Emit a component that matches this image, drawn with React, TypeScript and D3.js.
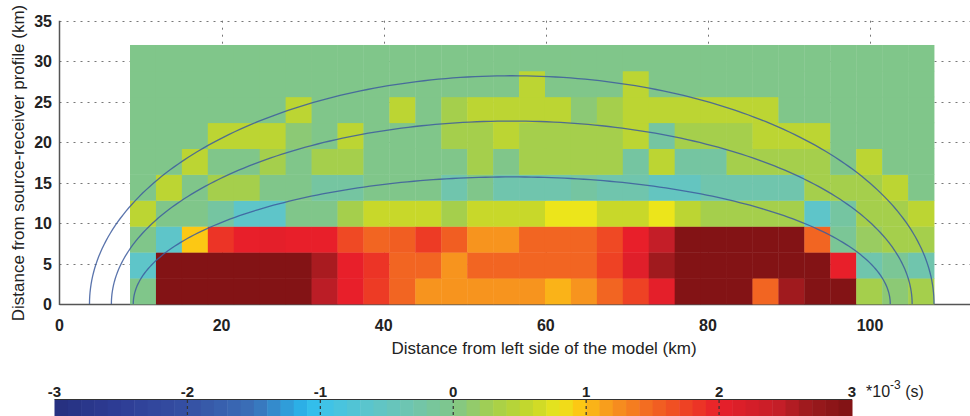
import { useEffect, useRef } from 'react';
import * as d3 from 'd3';

// Delay anomaly, *10^-3 s, one row per 3.2 km depth band (bottom row first), 31 columns of 3.2 km from x = 8.7 km
const row0 = [0, 2.95, 2.95, 2.95, 2.95, 2.95, 2.95, 2.5, 2.0, 1.8, 1.5, 1.2, 1.2, 1.2, 1.2, 1.2, 1.05, 1.2, 1.5, 1.75, 2.05, 2.95, 2.95, 2.95, 1.5, 2.65, 2.95, 2.95, 0.3, 0.1, 0.3];
const row1 = [-0.6, 2.95, 2.95, 2.95, 2.95, 2.95, 2.95, 2.6, 2.0, 1.85, 1.5, 1.5, 1.2, 1.5, 1.5, 1.5, 1.5, 1.5, 1.75, 2.1, 2.65, 2.95, 2.95, 2.95, 2.95, 2.95, 2.95, 2.0, -0.3, -0.1, -0.3];
const row2 = [0, -0.6, 0.95, 1.85, 2.0, 2.05, 2.0, 2.0, 1.7, 1.5, 1.55, 1.8, 1.55, 1.2, 1.2, 1.5, 1.5, 1.5, 1.7, 2.0, 2.45, 2.95, 2.95, 2.95, 2.95, 2.95, 1.5, -0.1, 0.2, 0.3, 0.3];
const row3 = [0.5, 0, 0, -0.2, -0.6, -0.6, 0, 0, 0.3, 0.6, 0.6, 0.6, 0.3, 0.6, 0.6, 0.6, 0.8, 0.8, 0.6, 0.6, 0.8, 0.5, 0.3, 0.3, 0.3, 0.3, -0.6, -0.2, 0.3, 0.3, 0.5];
const row4 = [0, 0.5, 0, 0.3, 0.3, 0, 0, -0.2, -0.2, 0, 0, 0, -0.3, 0, -0.3, -0.3, -0.3, -0.2, -0.3, -0.3, -0.5, -0.5, -0.3, -0.3, -0.3, -0.3, 0.3, 0.3, 0.3, 0.5, 0];
const row5 = [0, 0, 0.5, 0, 0, 0.3, 0, 0.3, 0.3, 0, 0, 0, 0, 0.3, 0, 0.3, 0.3, 0.3, 0.3, -0.2, 0.5, -0.2, -0.2, 0.3, 0.3, 0.3, 0.3, 0, 0.5, 0, 0];
const row6 = [0, 0, 0, 0.5, 0.5, 0.5, 0.1, 0, 0.5, 0, 0, 0, 0.3, 0.3, 0.5, 0.3, 0.3, 0.3, 0.3, 0.5, -0.2, 0.3, 0.3, 0.3, 0.5, 0.5, 0.5, 0, 0, 0, 0];
const row7 = [0, 0, 0, 0, 0, 0, 0.5, 0, 0, 0, 0.5, 0, 0.3, 0.5, 0.5, 0.5, 0.5, 0.1, 0.3, 0.5, 0.5, 0.5, 0.5, 0.5, 0.5, 0, 0, 0, 0, 0, 0];
const row8 = [0, 0, 0, 0, 0, 0, 0, 0, 0, 0, 0, 0, 0, 0, 0, 0.5, 0, 0, 0, 0.5, 0, 0, 0, 0, 0, 0, 0, 0, 0, 0, 0];
const row9 = [0, 0, 0, 0, 0, 0, 0, 0, 0, 0, 0, 0, 0, 0, 0, 0, 0, 0, 0, 0, 0, 0, 0, 0, 0, 0, 0, 0, 0, 0, 0];
const gridRows = [row0, row1, row2, row3, row4, row5, row6, row7, row8, row9];

const gridStart = 8.7;
const cellSize = 3.2;

// elliptical zones (km)
const zoneCenter = 55.8;
const zoneHalfWidth = [52.1, 49.4, 46.7];
const zoneHeight = [28.2, 22.6, 15.7];

const xTicks = [0, 20, 40, 60, 80, 100];
const yTicks = [0, 5, 10, 15, 20, 25, 30, 35];
const cbTicks = [-3, -2, -1, 0, 1, 2, 3];

// colour map stops
const cmapStops = [-3, -2.5, -2, -1.5, -1.1, -1, -0.6, -0.3, 0, 0.3, 0.5, 0.6, 0.8, 0.95, 1.2, 1.5, 1.75, 2.0, 2.45, 2.65, 3];
const cmapColors = ['#26307f', '#2e3d96', '#3550a3', '#3a70b8', '#2ab8ec', '#3cc3ea', '#5ec5c9', '#70c5ad', '#80c68a', '#a5cf4c', '#bcd533', '#c8d82a', '#ece51b', '#fcc814', '#f7941e', '#f26522', '#ee4224', '#e81f2a', '#c41e28', '#a01a1e', '#7e1214'];

const FONT = '"Liberation Sans", Arial, sans-serif';

export default function App() {
  const svgRef = useRef<SVGSVGElement | null>(null);

  useEffect(() => {
    const svg = d3.select(svgRef.current);
    svg.selectAll('*').remove();

    const x = d3.scaleLinear().domain([0, 100]).range([59.5, 870]);
    const y = d3.scaleLinear().domain([0, 35]).range([304, 20.7]);
    const color = d3.scaleLinear<string>().domain(cmapStops).range(cmapColors).clamp(true);

    // grid (dotted)
    const grid = svg.append('g').attr('stroke', '#777').attr('stroke-width', 1).attr('stroke-dasharray', '2,5');
    grid.selectAll('line.h')
      .data(yTicks.filter(d => d > 0))
      .join('line')
      .attr('x1', x(0)).attr('x2', 970)
      .attr('y1', d => Math.round(y(d)) + 0.5).attr('y2', d => Math.round(y(d)) + 0.5);
    grid.selectAll('line.v')
      .data(xTicks.filter(d => d > 0))
      .join('line')
      .attr('x1', d => Math.round(x(d)) + 0.5).attr('x2', d => Math.round(x(d)) + 0.5)
      .attr('y1', y(35)).attr('y2', y(0));

    // x axis line
    svg.append('line')
      .attr('x1', x(0)).attr('x2', 970).attr('y1', y(0) + 0.5).attr('y2', y(0) + 0.5)
      .attr('stroke', '#555').attr('stroke-width', 1.5);

    // heatmap cells
    const cells = gridRows.flatMap((row, r) => row.map((v, c) => ({ r, c, v })));
    svg.append('g')
      .selectAll('rect')
      .data(cells)
      .join('rect')
      .attr('x', d => x(gridStart + d.c * cellSize))
      .attr('y', d => y((d.r + 1) * cellSize))
      .attr('width', d => x(gridStart + (d.c + 1) * cellSize) - x(gridStart + d.c * cellSize) + 0.4)
      .attr('height', d => y(d.r * cellSize) - y((d.r + 1) * cellSize) + 0.4)
      .attr('fill', d => color(d.v));

    // y axis line
    svg.append('line')
      .attr('x1', x(0)).attr('x2', x(0)).attr('y1', y(35)).attr('y2', y(0) + 1)
      .attr('stroke', '#555').attr('stroke-width', 1.5);

    // elliptical zones
    const angles = d3.range(0, 181).map(a => (a * Math.PI) / 180);
    const line = d3.line<number>();
    svg.append('g')
      .selectAll('path')
      .data(zoneHalfWidth.map((a, i) => ({ a, b: zoneHeight[i] })))
      .join('path')
      .attr('d', d => line(angles.map(t => [x(zoneCenter + d.a * Math.cos(t)), y(d.b * Math.sin(t))])))
      .attr('fill', 'none')
      .attr('stroke', '#3d5c9e')
      .attr('stroke-opacity', 0.85)
      .attr('stroke-width', 1.3);

    // tick labels
    const labels = svg.append('g').attr('font-family', FONT).attr('font-size', 16).attr('fill', '#222').attr('font-weight', 'bold');
    labels.selectAll('text.x')
      .data(xTicks)
      .join('text')
      .attr('x', d => x(d)).attr('y', 331)
      .attr('text-anchor', 'middle')
      .text(d => d);
    labels.selectAll('text.y')
      .data(yTicks)
      .join('text')
      .attr('class', 'y')
      .attr('x', 52).attr('y', d => y(d) + 6)
      .attr('text-anchor', 'end')
      .text(d => d);

    svg.append('text')
      .attr('x', 544).attr('y', 354)
      .attr('text-anchor', 'middle')
      .attr('font-family', FONT).attr('font-size', 17).attr('fill', '#222')
      .text('Distance from left side of the model (km)');
    svg.append('text')
      .attr('transform', 'translate(24,163) rotate(-90)')
      .attr('text-anchor', 'middle')
      .attr('font-family', FONT).attr('font-size', 17).attr('fill', '#222')
      .text('Distance from source-receiver profile (km)');

    // colour bar
    const cb = d3.scaleLinear().domain([-3, 3]).range([54.5, 852]);
    const bands = d3.range(-3, 3, 0.1);
    svg.append('g')
      .selectAll('rect')
      .data(bands)
      .join('rect')
      .attr('x', d => cb(d))
      .attr('y', 399.5)
      .attr('width', d => cb(d + 0.1) - cb(d) + 0.5)
      .attr('height', 20)
      .attr('fill', d => color(d + 0.05));
    svg.append('line')
      .attr('x1', cb(-3)).attr('x2', cb(3)).attr('y1', 399.5).attr('y2', 399.5)
      .attr('stroke', '#333').attr('stroke-width', 1);
    svg.append('g')
      .selectAll('line')
      .data(cbTicks.slice(1, -1))
      .join('line')
      .attr('x1', d => cb(d)).attr('x2', d => cb(d))
      .attr('y1', 400).attr('y2', 416)
      .attr('stroke', '#333').attr('stroke-width', 1.2).attr('stroke-dasharray', '3,3');
    labels.selectAll('text.cb')
      .data(cbTicks)
      .join('text')
      .attr('x', d => cb(d)).attr('y', 397)
      .attr('text-anchor', 'middle')
      .attr('font-size', 15)
      .text(d => d);

    const unit = svg.append('text')
      .attr('x', 866).attr('y', 397)
      .attr('font-family', FONT).attr('font-size', 16).attr('fill', '#222');
    unit.append('tspan').text('*10');
    unit.append('tspan').attr('dy', -8).attr('font-size', 12).text('-3');
    unit.append('tspan').attr('dy', 8).text(' (s)');
  }, []);

  return (
    <div style={{ position: 'fixed', left: 0, top: 0, background: '#fff' }}>
      <svg ref={svgRef} width={970} height={416} style={{ display: 'block' }} />
    </div>
  );
}
